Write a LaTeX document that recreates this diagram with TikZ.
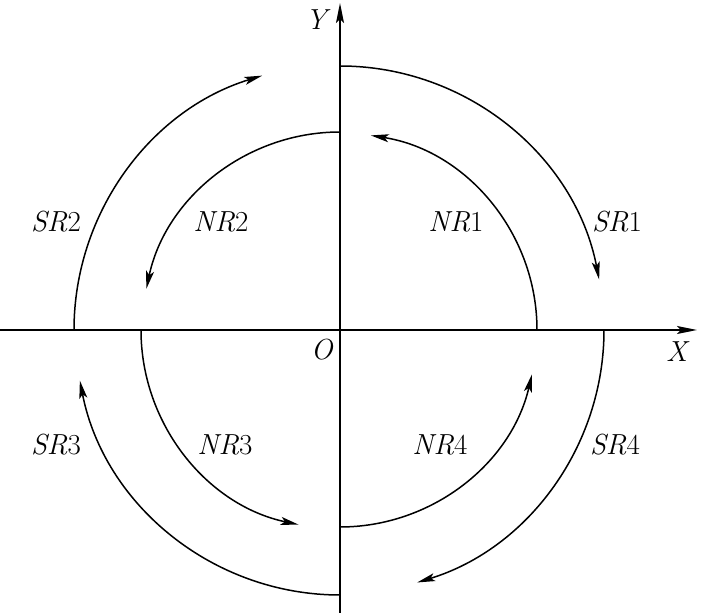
\documentclass[tikz,border=0pt]{standalone}
\usetikzlibrary{arrows.meta}
\begin{document}
\begin{tikzpicture}[x=1pt,y=1pt,
  axis/.style={line width=1.8pt,-{Stealth[length=20pt,width=8pt,inset=4pt]}},
  flow/.style={line width=1.5pt,-{Stealth[length=18pt,width=8pt,inset=4pt]}},
  lbl/.style={inner sep=0pt,font=\fontsize{29}{29}\selectfont}]
\useasboundingbox (0,0) rectangle (721,613);
\coordinate (O) at (340,283);
\coordinate (xl) at (0,283);
\coordinate (xr) at (697,283);
\coordinate (yb) at (340,0);
\coordinate (yt) at (340,610);
\draw[axis] (xl) -- (xr);
\draw[axis] (yb) -- (yt);
% outer arcs (SR)
\draw[flow] (O) ++(90:264) arc[start angle=90,end angle=11,radius=264];
\draw[flow] (O) ++(180:266) arc[start angle=180,end angle=107,radius=266];
\draw[flow] (O) ++(270:265) arc[start angle=270,end angle=191,radius=265];
\draw[flow] (O) ++(0:264) arc[start angle=0,end angle=-73,radius=264];
% inner arcs (NR)
\draw[flow] (O) ++(0:197) arc[start angle=0,end angle=81,radius=197];
\draw[flow] (O) ++(90:198) arc[start angle=90,end angle=168,radius=198];
\draw[flow] (O) ++(180:199) arc[start angle=180,end angle=258,radius=199];
\draw[flow] (O) ++(270:197) arc[start angle=270,end angle=347,radius=197];
% labels
\node[lbl] (nr1) at (456,391) {\textit{NR}1};
\node[lbl] (sr1) at (617,391) {\textit{SR}1};
\node[lbl] (sr2) at (56,391) {\textit{SR}2};
\node[lbl] (nr2) at (221,391) {\textit{NR}2};
\node[lbl] (sr3) at (56,168) {\textit{SR}3};
\node[lbl] (nr3) at (225,168) {\textit{NR}3};
\node[lbl] (nr4) at (440,168) {\textit{NR}4};
\node[lbl] (sr4) at (615,168) {\textit{SR}4};
\node[lbl] (xlab) at (678,261) {\textit{X}};
\node[lbl] (ylab) at (318,593) {\textit{Y}};
\node[lbl] (olab) at (322,263) {\textit{O}};
\end{tikzpicture}
\end{document}
